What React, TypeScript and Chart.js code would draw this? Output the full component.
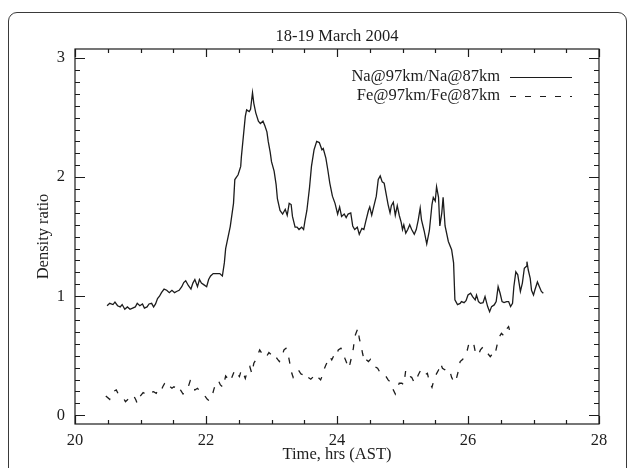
import React, { useEffect, useRef } from "react";
import { Chart, registerables } from "chart.js";

Chart.register(...registerables);

const chartTitle = "18-19 March 2004";
const xAxisTitle = "Time, hrs (AST)";
const yAxisTitle = "Density ratio";
const seriesLabels = ["Na@97km/Na@87km", "Fe@97km/Fe@87km"];
const xTicks = [20, 22, 24, 26, 28];
const yTicks = [0, 1, 2, 3];
const xRange = [20, 28];
const yRange = [-0.073, 3.076];
const xMinorStep = 0.5;
const yMinorStep = 0.1;

const naTime = [
  20.49, 20.53, 20.58, 20.61, 20.65, 20.69, 20.72, 20.76, 20.8, 20.84, 20.88, 20.92, 20.95, 20.99,
  21.03, 21.06, 21.1, 21.13, 21.17, 21.2, 21.23, 21.26, 21.29, 21.32, 21.36, 21.4, 21.44, 21.48,
  21.52, 21.55, 21.59, 21.63, 21.66, 21.69, 21.73, 21.77, 21.8, 21.83, 21.87, 21.9, 21.93, 21.97,
  22.01, 22.04, 22.07, 22.11, 22.16, 22.21, 22.25, 22.28, 22.3, 22.37, 22.42, 22.44, 22.49, 22.53,
  22.54, 22.57, 22.6, 22.62, 22.66, 22.68, 22.71, 22.73, 22.76, 22.8, 22.83, 22.87, 22.9, 22.93,
  22.95, 22.98, 23.0, 23.04, 23.07, 23.09, 23.13, 23.17, 23.21, 23.24, 23.27, 23.3, 23.32, 23.36,
  23.39, 23.42, 23.46, 23.49, 23.51, 23.54, 23.58, 23.61, 23.65, 23.69, 23.73, 23.77, 23.79, 23.83,
  23.86, 23.89, 23.93, 23.97, 24.01, 24.04, 24.07, 24.11, 24.14, 24.17, 24.21, 24.24, 24.27, 24.31,
  24.34, 24.38, 24.41, 24.44, 24.48, 24.5, 24.53, 24.56, 24.6, 24.63, 24.66, 24.69, 24.72, 24.75,
  24.78, 24.81, 24.83, 24.86, 24.89, 24.92, 24.95, 24.98, 25.0, 25.02, 25.05, 25.08, 25.11, 25.14,
  25.18, 25.21, 25.24, 25.27, 25.29, 25.33, 25.37, 25.41, 25.45, 25.47, 25.5, 25.52, 25.55, 25.57,
  25.6, 25.62, 25.65, 25.7, 25.75, 25.78, 25.8, 25.84, 25.88, 25.9, 25.94, 25.97, 26.0, 26.04,
  26.07, 26.11, 26.13, 26.16, 26.19, 26.23, 26.26, 26.3, 26.33, 26.36, 26.4, 26.43, 26.46, 26.49,
  26.52, 26.55, 26.59, 26.62, 26.65, 26.68, 26.7, 26.73, 26.76, 26.78, 26.8, 26.83, 26.86, 26.89,
  26.9, 26.92, 26.95, 26.97, 27.0, 27.02, 27.06, 27.09, 27.12, 27.15,
];
const naRatio = [
  0.92, 0.94, 0.93, 0.95, 0.92, 0.91, 0.93, 0.89, 0.91, 0.89, 0.9, 0.91, 0.94, 0.92,
  0.935, 0.9, 0.91, 0.935, 0.94, 0.91, 0.935, 0.98, 1.0, 1.03, 1.06, 1.05, 1.03, 1.05,
  1.03, 1.04, 1.05, 1.08, 1.115, 1.13, 1.09, 1.06, 1.11, 1.14, 1.08, 1.14, 1.11, 1.095,
  1.08, 1.14, 1.17, 1.19, 1.19, 1.19, 1.17, 1.28, 1.4, 1.585, 1.78, 1.98, 2.02, 2.09,
  2.17, 2.34, 2.51, 2.565, 2.55, 2.57, 2.71, 2.62, 2.54, 2.47, 2.45, 2.47, 2.43, 2.38,
  2.3, 2.21, 2.13, 2.05, 1.94, 1.82, 1.72, 1.69, 1.73, 1.68, 1.78, 1.77, 1.67, 1.58,
  1.58, 1.56, 1.58, 1.56, 1.63, 1.72, 1.91, 2.09, 2.23, 2.3, 2.29, 2.23, 2.24, 2.16,
  2.06, 1.95, 1.84, 1.78, 1.69, 1.75, 1.67, 1.69, 1.66, 1.69, 1.7, 1.59, 1.56, 1.58,
  1.52, 1.57, 1.56, 1.63, 1.72, 1.75, 1.68, 1.75, 1.84, 1.98, 2.01, 1.96, 1.95, 1.86,
  1.77, 1.7, 1.76, 1.79, 1.68, 1.76, 1.68, 1.62, 1.56, 1.6, 1.53, 1.56, 1.6, 1.56,
  1.52, 1.56, 1.64, 1.74, 1.64, 1.55, 1.44, 1.55, 1.77, 1.83, 1.8, 1.92, 1.83, 1.59,
  1.7, 1.83, 1.59, 1.46, 1.39, 1.28, 0.97, 0.93, 0.94, 0.955, 0.946, 0.963, 1.01, 1.025,
  0.997, 0.97, 1.01, 0.955, 0.94, 0.946, 0.997, 0.913, 0.87, 0.913, 0.927, 0.955, 1.08, 1.025,
  0.955, 0.946, 0.955, 0.955, 0.913, 0.94, 1.08, 1.205, 1.18, 1.11, 1.04, 1.11, 1.235, 1.25,
  1.29, 1.22, 1.15, 1.05, 1.01, 1.05, 1.12, 1.08, 1.04, 1.025,
];

const feTime = [
  20.47, 20.53, 20.58, 20.63, 20.66, 20.7, 20.74, 20.77, 20.82, 20.89, 20.93, 20.95, 20.99, 21.04,
  21.08, 21.12, 21.16, 21.2, 21.24, 21.27, 21.31, 21.34, 21.37, 21.41, 21.44, 21.48, 21.51, 21.55,
  21.58, 21.61, 21.65, 21.69, 21.73, 21.76, 21.78, 21.83, 21.87, 21.91, 21.95, 21.99, 22.02, 22.05,
  22.09, 22.12, 22.15, 22.19, 22.22, 22.26, 22.3, 22.33, 22.37, 22.4, 22.44, 22.46, 22.51, 22.54,
  22.57, 22.6, 22.63, 22.67, 22.7, 22.73, 22.76, 22.8, 22.82, 22.86, 22.9, 22.93, 22.96, 23.0,
  23.04, 23.08, 23.12, 23.16, 23.19, 23.22, 23.26, 23.28, 23.31, 23.33, 23.37, 23.41, 23.45, 23.49,
  23.53, 23.56, 23.6, 23.64, 23.68, 23.71, 23.75, 23.78, 23.8, 23.83, 23.87, 23.89, 23.92, 23.95,
  23.98, 24.02, 24.06, 24.09, 24.12, 24.15, 24.18, 24.2, 24.23, 24.25, 24.27, 24.3, 24.32, 24.34,
  24.37, 24.39, 24.42, 24.44, 24.48, 24.51, 24.54, 24.58, 24.62, 24.65, 24.68, 24.72, 24.75, 24.78,
  24.81, 24.83, 24.86, 24.89, 24.91, 24.95, 24.99, 25.02, 25.05, 25.07, 25.1, 25.14, 25.18, 25.21,
  25.24, 25.28, 25.31, 25.34, 25.38, 25.41, 25.45, 25.48, 25.51, 25.55, 25.58, 25.61, 25.65, 25.68,
  25.73, 25.75, 25.79, 25.82, 25.85, 25.88, 25.92, 25.95, 25.99, 26.02, 26.06, 26.09, 26.12, 26.16,
  26.19, 26.23, 26.26, 26.3, 26.34, 26.38, 26.41, 26.45, 26.48, 26.51, 26.55, 26.58, 26.62, 26.64,
];
const feRatio = [
  0.162, 0.134, 0.199, 0.213, 0.179, 0.157, 0.143, 0.115, 0.14, 0.171, 0.129, 0.1, 0.157, 0.19,
  0.179, 0.199, 0.19, 0.199, 0.185, 0.213, 0.199, 0.24, 0.269, 0.283, 0.246, 0.227, 0.24, 0.227,
  0.246, 0.213, 0.179, 0.199, 0.24, 0.291, 0.283, 0.213, 0.227, 0.199, 0.179, 0.157, 0.134, 0.123,
  0.157, 0.218, 0.269, 0.291, 0.255, 0.235, 0.33, 0.31, 0.283, 0.325, 0.381, 0.366, 0.325, 0.381,
  0.353, 0.31, 0.366, 0.408, 0.35, 0.437, 0.465, 0.521, 0.549, 0.515, 0.527, 0.499, 0.527, 0.507,
  0.521, 0.479, 0.451, 0.493, 0.549, 0.563, 0.493, 0.437, 0.353, 0.319, 0.366, 0.381, 0.347, 0.339,
  0.303, 0.319, 0.303, 0.325, 0.297, 0.319, 0.297, 0.339, 0.381, 0.423, 0.465, 0.493, 0.465, 0.499,
  0.487, 0.549, 0.563, 0.535, 0.479, 0.437, 0.395, 0.437, 0.507, 0.563, 0.661, 0.703, 0.731, 0.647,
  0.577, 0.521, 0.451, 0.47, 0.451, 0.47, 0.437, 0.408, 0.395, 0.366, 0.366, 0.347, 0.325, 0.297,
  0.283, 0.235, 0.213, 0.179, 0.213, 0.269, 0.269, 0.255, 0.381, 0.353, 0.33, 0.319, 0.274, 0.297,
  0.339, 0.381, 0.353, 0.339, 0.353, 0.283, 0.235, 0.297, 0.339, 0.381, 0.437, 0.395, 0.381, 0.347,
  0.358, 0.319, 0.274, 0.303, 0.366, 0.451, 0.47, 0.521, 0.549, 0.619, 0.605, 0.591, 0.51, 0.51,
  0.549, 0.575, 0.55, 0.52, 0.493, 0.521, 0.507, 0.605, 0.661, 0.689, 0.666, 0.717, 0.745, 0.703,
];

const FONT = "'Liberation Serif', 'Times New Roman', serif";
const FONT_SIZE = 16.5;
const INK = "#1c1c1c";
const DASH = [6, 9];

const decorPlugin = {
  id: "decor",
  afterDraw(chart: any) {
    const { ctx, chartArea: a, scales } = chart;
    const x = scales.x;
    const y = scales.y;
    ctx.save();
    ctx.strokeStyle = INK;
    ctx.lineWidth = 1.2;
    ctx.setLineDash([]);
    ctx.strokeRect(a.left, a.top, a.right - a.left, a.bottom - a.top);

    // x ticks (bottom & top, inward)
    const nx = Math.round((xRange[1] - xRange[0]) / xMinorStep);
    ctx.beginPath();
    for (let i = 0; i <= nx; i++) {
      const v = xRange[0] + i * xMinorStep;
      const px = Math.round(x.getPixelForValue(v)) + 0.5;
      const len = xTicks.includes(v) ? 8 : 4;
      ctx.moveTo(px, a.bottom);
      ctx.lineTo(px, a.bottom - len);
      ctx.moveTo(px, a.top);
      ctx.lineTo(px, a.top + len);
    }
    // y ticks (left & right, inward)
    const y0 = yTicks[0];
    const y1 = yTicks[yTicks.length - 1];
    const ny = Math.round((y1 - y0) / yMinorStep);
    for (let i = 0; i <= ny; i++) {
      const v = y0 + i * yMinorStep;
      const py = Math.round(y.getPixelForValue(v)) + 0.5;
      const major = i % Math.round(1 / yMinorStep) === 0;
      const len = major ? 10 : 5;
      ctx.moveTo(a.left, py);
      ctx.lineTo(a.left + len, py);
      ctx.moveTo(a.right, py);
      ctx.lineTo(a.right - len, py);
    }
    ctx.stroke();

    // title
    ctx.fillStyle = INK;
    ctx.font = `${FONT_SIZE}px ${FONT}`;
    ctx.textAlign = "center";
    ctx.textBaseline = "middle";
    ctx.fillText(chartTitle, (a.left + a.right) / 2, a.top - 12);

    // legend
    const rows = [a.top + 28, a.top + 47];
    chart.data.datasets.forEach((ds: any, i: number) => {
      const ry = rows[i];
      ctx.textAlign = "right";
      ctx.fillText(ds.label, a.right - 99, ry);
      ctx.beginPath();
      ctx.lineWidth = 1.2;
      ctx.setLineDash(ds.borderDash || []);
      ctx.moveTo(a.right - 89, ry + 0.5);
      ctx.lineTo(a.right - 27, ry + 0.5);
      ctx.stroke();
    });
    ctx.restore();
  },
};

export default function App() {
  const ref = useRef<HTMLCanvasElement | null>(null);

  useEffect(() => {
    if (!ref.current) return;
    const chart = new Chart(ref.current, {
      type: "line",
      data: {
        datasets: [
          {
            label: seriesLabels[0],
            data: naTime.map((t, i) => ({ x: t, y: naRatio[i] })),
            borderColor: INK,
            borderWidth: 1.3,
            pointRadius: 0,
            tension: 0,
            fill: false,
          },
          {
            label: seriesLabels[1],
            data: feTime.map((t, i) => ({ x: t, y: feRatio[i] })),
            borderColor: INK,
            borderWidth: 1.3,
            borderDash: DASH,
            pointRadius: 0,
            tension: 0,
            fill: false,
          },
        ],
      },
      options: {
        animation: false,
        responsive: false,
        devicePixelRatio: 1,
        layout: { padding: { top: 49, right: 30, left: 0, bottom: 0 } },
        plugins: {
          legend: { display: false },
          title: { display: false },
          tooltip: { enabled: false },
        },
        scales: {
          x: {
            type: "linear",
            min: xRange[0],
            max: xRange[1],
            grid: { display: false, drawTicks: false },
            border: { display: false },
            afterBuildTicks: (s: any) => {
              s.ticks = xTicks.map((v) => ({ value: v }));
            },
            afterFit: (s: any) => {
              s.height = 44;
            },
            ticks: {
              autoSkip: false,
              maxRotation: 0,
              padding: 7,
              color: INK,
              font: { family: FONT, size: FONT_SIZE },
              callback: (v: any) => String(v),
            },
            title: {
              display: true,
              text: xAxisTitle,
              color: INK,
              font: { family: FONT, size: FONT_SIZE },
              padding: { top: 0, bottom: 3.1 },
            },
          },
          y: {
            type: "linear",
            min: yRange[0],
            max: yRange[1],
            grid: { display: false, drawTicks: false },
            border: { display: false },
            afterBuildTicks: (s: any) => {
              s.ticks = yTicks.map((v) => ({ value: v }));
            },
            afterFit: (s: any) => {
              s.width = 75;
            },
            ticks: {
              autoSkip: false,
              padding: 10,
              color: INK,
              font: { family: FONT, size: FONT_SIZE },
              callback: (v: any) => String(v),
            },
            title: {
              display: true,
              text: yAxisTitle,
              color: INK,
              font: { family: FONT, size: FONT_SIZE },
              padding: { top: 34.1, bottom: 0 },
            },
          },
        },
      },
      plugins: [decorPlugin],
    });
    return () => chart.destroy();
  }, []);

  return (
    <div
      style={{
        position: "fixed",
        left: 0,
        top: 0,
        width: 629,
        height: 468,
        overflow: "hidden",
        background: "#fff",
      }}
    >
      <div
        style={{
          position: "absolute",
          left: 8,
          top: 12,
          width: 617,
          height: 520,
          border: "1.5px solid #3a3a3a",
          borderRadius: 9,
        }}
      />
      <canvas
        ref={ref}
        width={629}
        height={468}
        style={{ position: "absolute", left: 0, top: 0, display: "block" }}
      />
    </div>
  );
}
